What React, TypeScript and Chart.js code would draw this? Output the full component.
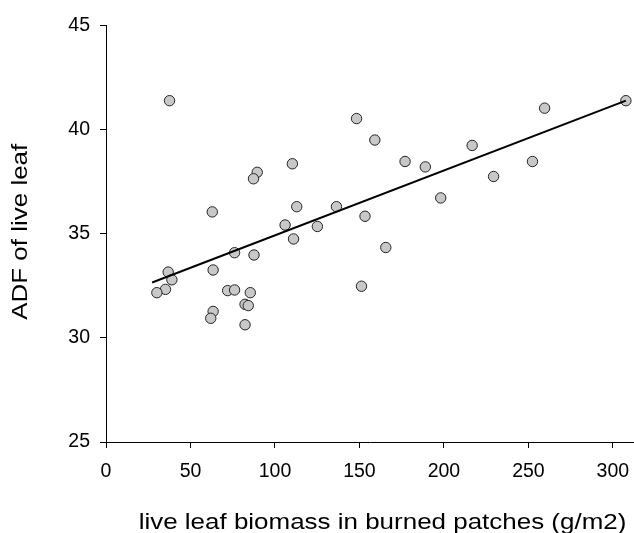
import React, { useEffect, useRef } from "react";
import { Chart, registerables } from "chart.js";

Chart.register(...registerables);

// Scatter data: live leaf biomass (g/m2) vs ADF of live leaf
const biomass = [
  37.6, 148.3, 259.6, 307.7, 159.1, 216.7, 177.0, 189.0, 252.4, 229.4,
  110.3, 89.5, 87.3, 198.1, 62.9, 112.9, 136.4, 153.3, 106.0, 125.1,
  111.0, 165.6, 76.1, 87.6, 63.4, 36.8, 39.0, 35.2, 30.1, 72.0,
  76.1, 85.4, 151.2, 82.3, 84.2, 63.4, 62.0, 82.3,
];
const adf = [
  41.39, 40.53, 41.03, 41.39, 39.5, 39.24, 38.47, 38.21, 38.47, 37.75,
  38.36, 37.95, 37.64, 36.72, 36.05, 36.3, 36.3, 35.84, 35.42, 35.35,
  34.75, 34.34, 34.09, 33.98, 33.26, 33.16, 32.79, 32.33, 32.17, 32.27,
  32.3, 32.17, 32.48, 31.61, 31.55, 31.27, 30.94, 30.63,
];

// Fitted regression line end points
const fitX = [27.3, 307.7];
const fitY = [32.66, 41.39];

const xTitle = "live leaf biomass in burned patches (g/m2)";
const yTitle = "ADF of live leaf";
const xTickValues = [0, 50, 100, 150, 200, 250, 300];
const yTickValues = [25, 30, 35, 40, 45];

const FONT = '"Liberation Sans", Arial, Helvetica, sans-serif';

const titlePlugin = {
  id: "axisTitles",
  afterDraw(chart: any) {
    const ctx = chart.ctx;
    const area = chart.chartArea;
    ctx.save();
    ctx.fillStyle = "#000";
    ctx.font = `22px ${FONT}`;
    ctx.textAlign = "center";
    ctx.textBaseline = "alphabetic";
    // x title
    ctx.save();
    ctx.translate((area.left + area.right) / 2 + 12.5, chart.height - 4);
    ctx.scale(1.18, 1);
    ctx.fillText(xTitle, 0, 0);
    ctx.restore();
    // y title
    ctx.save();
    ctx.translate(27, (area.top + area.bottom) / 2 - 2);
    ctx.rotate(-Math.PI / 2);
    ctx.scale(1.18, 1);
    ctx.fillText(yTitle, 0, 0);
    ctx.restore();
    ctx.restore();
  },
};

export default function App() {
  const ref = useRef<HTMLCanvasElement | null>(null);

  useEffect(() => {
    if (!ref.current) return;
    const points = biomass.map((x, i) => ({ x, y: adf[i] }));
    const line = fitX.map((x, i) => ({ x, y: fitY[i] }));
    const chart = new Chart(ref.current, {
      type: "scatter",
      data: {
        datasets: [
          {
            type: "line",
            data: line,
            borderColor: "#000",
            borderWidth: 2,
            pointRadius: 0,
            fill: false,
            showLine: true,
            order: 0,
          } as any,
          {
            data: points,
            pointRadius: 5.2,
            pointBackgroundColor: "#c8c8c8",
            pointBorderColor: "#222",
            pointBorderWidth: 1,
            order: 1,
          },
        ],
      },
      options: {
        animation: false,
        responsive: true,
        maintainAspectRatio: false,
        layout: { autoPadding: false, padding: { top: 25.5, right: 0, left: 0, bottom: 0 } },
        plugins: {
          legend: { display: false },
          tooltip: { enabled: false },
        },
        scales: {
          x: {
            type: "linear",
            min: 0,
            max: 312.5,
            afterFit: (s: any) => {
              s.height = 91;
              s.paddingLeft = 0;
              s.paddingRight = 0;
            },
            afterBuildTicks: (s: any) => {
              s.ticks = xTickValues.map((v) => ({ value: v }));
            },
            grid: {
              drawOnChartArea: false,
              drawTicks: true,
              tickLength: 6,
              tickColor: "#000",
              tickWidth: 1,
            },
            border: { display: true, color: "#000", width: 1 },
            ticks: {
              color: "#000",
              padding: 12,
              font: { family: FONT, size: 19.5 },
              maxRotation: 0,
              includeBounds: false,
            },
          },
          y: {
            type: "linear",
            min: 25,
            max: 45,
            afterFit: (s: any) => {
              s.width = 106;
            },
            afterBuildTicks: (s: any) => {
              s.ticks = yTickValues.map((v) => ({ value: v }));
            },
            grid: {
              drawOnChartArea: false,
              drawTicks: true,
              tickLength: 6,
              tickColor: "#000",
              tickWidth: 1,
            },
            border: { display: true, color: "#000", width: 1 },
            ticks: {
              color: "#000",
              padding: 10,
              font: { family: FONT, size: 19.5 },
              includeBounds: false,
            },
          },
        },
      },
      plugins: [titlePlugin],
    });
    return () => chart.destroy();
  }, []);

  return (
    <div style={{ position: "fixed", left: 0, top: 0, width: 634, height: 533, background: "#fff" }}>
      <canvas ref={ref} />
    </div>
  );
}
